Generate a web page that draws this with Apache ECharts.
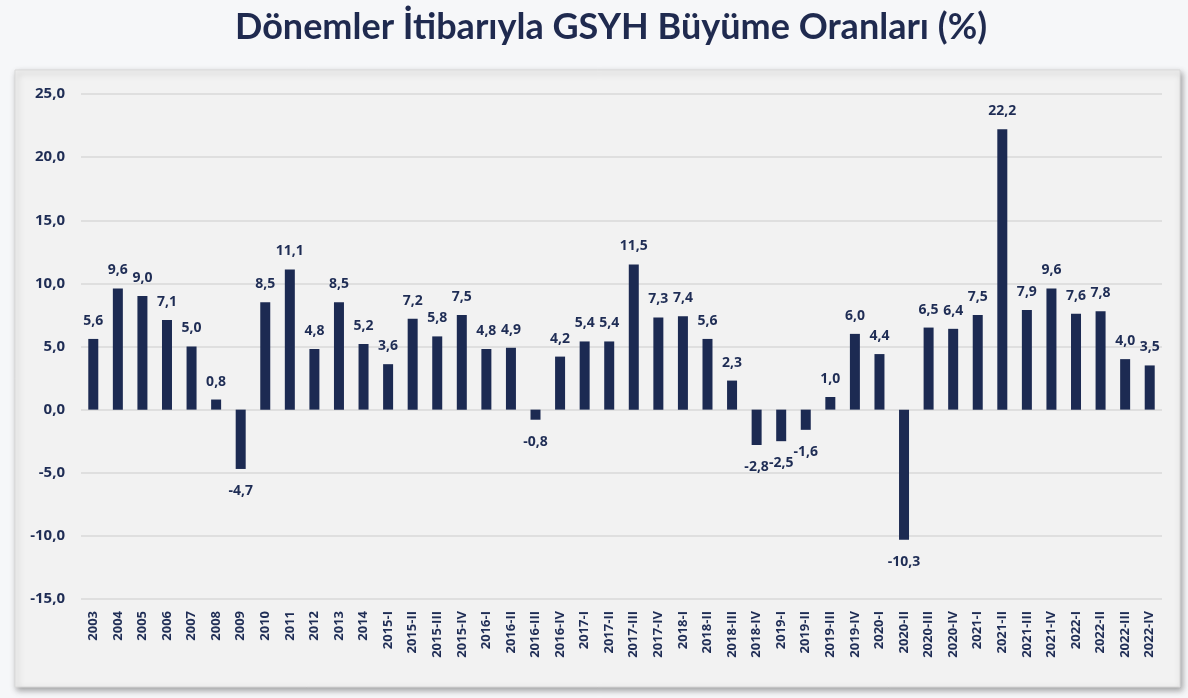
<!DOCTYPE html>
<html>
<head>
<meta charset="utf-8">
<script src="https://cdn.jsdelivr.net/npm/echarts@6/dist/echarts.min.js"></script>
<style>
  html, body { margin: 0; padding: 0; background: #f6f7f9; }
  #main { width: 1188px; height: 698px; }
</style>
</head>
<body>
<div id="main"></div>
<script>
// dönemler
const categories = [
  '2003', '2004', '2005', '2006', '2007', '2008', '2009', '2010', '2011', '2012', '2013', '2014',
  '2015-I', '2015-II', '2015-III', '2015-IV',
  '2016-I', '2016-II', '2016-III', '2016-IV',
  '2017-I', '2017-II', '2017-III', '2017-IV',
  '2018-I', '2018-II', '2018-III', '2018-IV',
  '2019-I', '2019-II', '2019-III', '2019-IV',
  '2020-I', '2020-II', '2020-III', '2020-IV',
  '2021-I', '2021-II', '2021-III', '2021-IV',
  '2022-I', '2022-II', '2022-III', '2022-IV'
]
// büyüme oranları (%)
const growth = [
  5.6, 9.6, 9.0, 7.1, 5.0, 0.8, -4.7, 8.5, 11.1, 4.8, 8.5, 5.2,
  3.6, 7.2, 5.8, 7.5,
  4.8, 4.9, -0.8, 4.2,
  5.4, 5.4, 11.5, 7.3,
  7.4, 5.6, 2.3, -2.8,
  -2.5, -1.6, 1.0, 6.0,
  4.4, -10.3, 6.5, 6.4,
  7.5, 22.2, 7.9, 9.6,
  7.6, 7.8, 4.0, 3.5
]

const navy = '#1c2a52'
const textNavy = '#1f2d55'
const fmt = v => v.toFixed(1).replace('.', ',')

let chart = echarts.init(document.getElementById('main'))

let option = {
  backgroundColor: '#f6f7f9',
  animation: false,
  title: {
    text: 'Dönemler İtibarıyla GSYH Büyüme Oranları (%)',
    left: 230,
    top: 4,
    textStyle: {
      fontFamily: 'Lato',
      fontWeight: 'bold',
      fontSize: 36,
      color: '#1f2a4f'
    }
  },
  graphic: [
    {
      type: 'rect',
      z: -10,
      shape: { x: 15, y: 70, width: 1165, height: 617 },
      style: {
        fill: '#f2f2f2',
        stroke: '#d9d9d9',
        lineWidth: 1,
        shadowBlur: 6,
        shadowOffsetX: 2,
        shadowOffsetY: 3,
        shadowColor: 'rgba(0,0,0,0.35)'
      }
    }
  ],
  grid: {
    left: 81,
    right: 26,
    top: 94,
    bottom: 99,
    containLabel: false,
    outerBoundsMode: 'none'
  },
  xAxis: {
    type: 'category',
    data: categories,
    axisLine: { show: false },
    axisTick: { show: false },
    axisLabel: {
      interval: 0,
      rotate: 90,
      margin: 12,
      fontFamily: 'Open Sans',
      fontWeight: 'bold',
      fontSize: 13,
      color: textNavy
    }
  },
  yAxis: {
    type: 'value',
    min: -15,
    max: 25,
    interval: 5,
    axisLine: { show: false },
    axisTick: { show: false },
    splitLine: { lineStyle: { color: '#d9d9d9', width: 1.5 } },
    axisLabel: {
      margin: 16,
      fontFamily: 'Open Sans',
      fontWeight: 'bold',
      fontSize: 15,
      color: textNavy,
      formatter: v => fmt(v)
    }
  },
  series: [
    {
      type: 'bar',
      barWidth: 10,
      itemStyle: { color: navy },
      data: growth.map(v => ({
        value: v,
        label: {
          position: v < 0 ? 'bottom' : 'top',
          distance: v < 0 ? 15 : 11
        }
      })),
      label: {
        show: true,
        fontFamily: 'Open Sans',
        fontWeight: 'bold',
        fontSize: 14,
        color: textNavy,
        formatter: p => fmt(p.value)
      }
    }
  ]
}

option && chart.setOption(option)
</script>
</body>
</html>
